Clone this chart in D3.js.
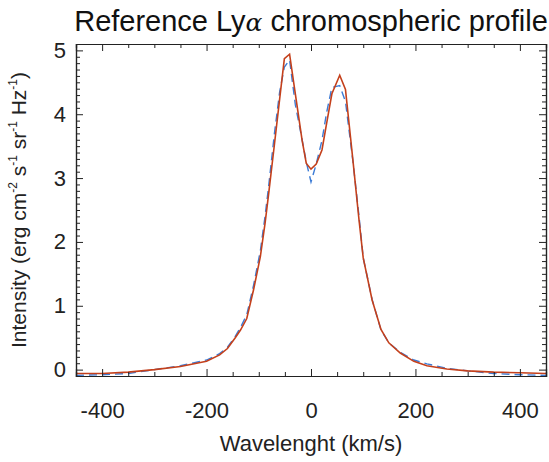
<!DOCTYPE html>
<html>
<head>
<meta charset="utf-8">
<script src="https://cdn.jsdelivr.net/npm/d3@7"></script>
<style>
  body { margin: 0; background: #fff; }
  svg { font-family: "Liberation Sans", Arial, sans-serif; }
  .axis path, .axis line { stroke: #222; }
  .axis text { fill: #222; font-size: 22px; }
</style>
</head>
<body>
<div id="chart"></div>
<script>
// velocity grid (km/s)
const velocity = [-450, -400, -350, -300, -250, -200, -175, -160, -145, -135, -123, -110, -97, -88, -81, -70, -60, -51, -41, -30, -17, -9, 0, 10, 21, 30, 40, 55, 66, 80, 92, 100, 117, 134, 149, 171, 197, 222, 260, 300, 350, 400, 450]
// solid red profile
const profileRed = [-0.06, -0.06, -0.04, 0.0, 0.05, 0.13, 0.23, 0.33, 0.5, 0.62, 0.8, 1.25, 1.77, 2.29, 2.76, 3.53, 4.24, 4.87, 4.94, 4.32, 3.59, 3.23, 3.14, 3.22, 3.44, 3.86, 4.32, 4.61, 4.39, 3.3, 2.34, 1.75, 1.09, 0.63, 0.42, 0.26, 0.13, 0.06, 0.01, -0.02, -0.04, -0.05, -0.06]
// dashed blue profile
const profileBlue = [-0.09, -0.08, -0.06, 0.0, 0.06, 0.15, 0.25, 0.35, 0.52, 0.66, 0.86, 1.32, 1.86, 2.4, 2.88, 3.7, 4.35, 4.74, 4.85, 4.15, 3.6, 3.25, 2.94, 3.22, 3.59, 4.03, 4.42, 4.45, 4.2, 3.28, 2.4, 1.75, 1.1, 0.62, 0.42, 0.27, 0.15, 0.09, 0.02, -0.02, -0.06, -0.08, -0.09]
const xMajor = [-400, -200, 0, 200, 400]
const yMajor = [0, 1, 2, 3, 4, 5]

const W = 549, H = 462
const margin = { top: 44, right: 3, bottom: 86, left: 76 }
const width = W - margin.left - margin.right
const height = H - margin.top - margin.bottom

const svg = d3.select("#chart").append("svg")
    .attr("width", W)
    .attr("height", H)

const g = svg.append("g")
    .attr("transform", `translate(${margin.left}, ${margin.top})`)

const x = d3.scaleLinear().domain([-450, 450]).range([0, width])
const y = d3.scaleLinear().domain([-0.1, 5.1]).range([height, 0])

const xMinor = d3.range(-450, 451, 50).filter(v => !xMajor.includes(v))
const yMinor = d3.range(0, 51).map(v => v / 10).filter(v => !yMajor.includes(v))

g.append("defs").append("clipPath").attr("id", "clip")
    .append("rect").attr("width", width).attr("height", height)

/* LINES */
const line = d3.line()
    .x((d, i) => x(velocity[i]))
    .y(d => y(d))

g.append("path")
    .datum(profileBlue)
    .attr("clip-path", "url(#clip)")
    .attr("fill", "none")
    .attr("stroke", "#3b7bd6")
    .attr("stroke-width", 1.4)
    .attr("stroke-dasharray", "8,5")
    .attr("d", line)

g.append("path")
    .datum(profileRed)
    .attr("clip-path", "url(#clip)")
    .attr("fill", "none")
    .attr("stroke", "#c4401c")
    .attr("stroke-width", 1.6)
    .attr("d", line)

/* AXES (ticks inward on all sides) */
function addAxis(axisFn, scale, ticks, size, labels, transform) {
    const a = axisFn(scale).tickValues(ticks).tickSize(-size)
    if (labels) a.tickFormat(d => String(d))
    else a.tickFormat("")
    return g.append("g")
        .attr("class", "axis")
        .attr("transform", transform || null)
        .call(a)
}

const xb = addAxis(d3.axisBottom, x, xMajor, 7, true, `translate(0, ${height})`)
xb.selectAll("text").attr("y", 26)
addAxis(d3.axisBottom, x, xMinor, 4, false, `translate(0, ${height})`)
addAxis(d3.axisTop, x, xMajor, 7, false)
addAxis(d3.axisTop, x, xMinor, 4, false)

const yl = addAxis(d3.axisLeft, y, yMajor, 7, true)
yl.selectAll("text").attr("x", -10)
addAxis(d3.axisLeft, y, yMinor, 4, false)
addAxis(d3.axisRight, y, yMajor, 7, false, `translate(${width}, 0)`)
addAxis(d3.axisRight, y, yMinor, 4, false, `translate(${width}, 0)`)

// drop empty label nodes of the unlabelled axes
g.selectAll(".axis text").filter(function() { return this.textContent === "" }).remove()
g.selectAll(".axis path.domain").attr("stroke-width", 1.2)

/* TITLE */
const title = svg.append("text")
    .attr("x", margin.left + width / 2)
    .attr("y", 31)
    .attr("text-anchor", "middle")
    .style("font-size", "29px")
    .attr("fill", "#111")
title.append("tspan").text("Reference Ly")
title.append("tspan").text("α")
    .style("font-family", "'DejaVu Serif', 'Liberation Serif', serif")
    .style("font-style", "italic")
    .style("font-size", "25px")
title.append("tspan").text(" chromospheric profile")

/* X LABEL */
svg.append("text")
    .attr("x", margin.left + width / 2)
    .attr("y", 451)
    .attr("text-anchor", "middle")
    .style("font-size", "22px")
    .attr("fill", "#222")
    .text("Wavelenght (km/s)")

/* Y LABEL */
const ylab = svg.append("text")
    .attr("transform", `translate(26, ${margin.top + height / 2}) rotate(-90)`)
    .attr("text-anchor", "middle")
    .style("font-size", "21px")
    .attr("fill", "#222")
const parts = [["Intensity (erg cm", "-2"], [" s", "-1"], [" sr", "-1"], [" Hz", "-1"]]
parts.forEach(([t, s], i) => {
    ylab.append("tspan").text(t).attr("dy", i === 0 ? 0 : 9)
    ylab.append("tspan").text(s).attr("dy", -9).style("font-size", "12px")
})
ylab.append("tspan").text(")").attr("dy", 9)
</script>
</body>
</html>
